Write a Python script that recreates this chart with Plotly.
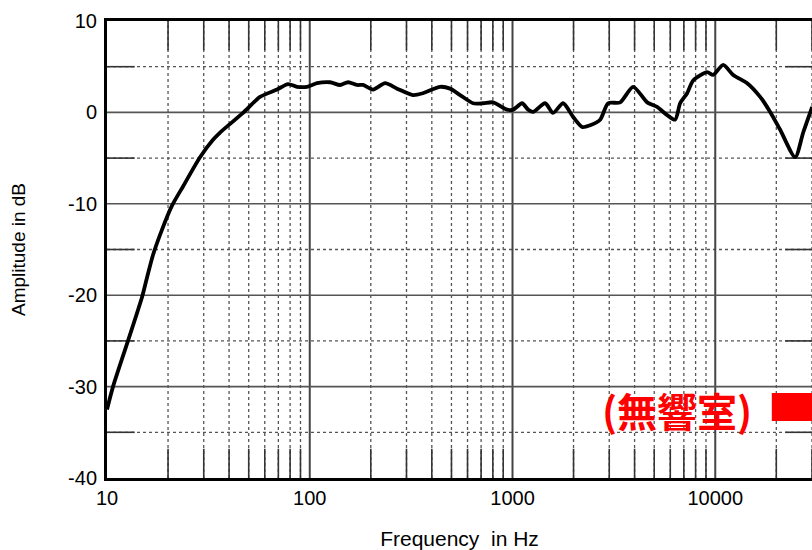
import numpy as np
import plotly.graph_objects as go

# ---- data ----
freq_hz = [10, 10.71, 12.69, 14.89, 15.70, 16.86, 18.62, 20.92, 23.71, 28.76, 33.33, 36.10,
           46.87, 56.86, 68.97, 78.14, 86.56, 96.97, 108.6, 125.9, 141.1, 154.5, 171.2,
           183.2, 205.3, 235.3, 269.6, 323.3, 362.2, 439.4, 492.2, 551.3, 639.0, 716.1,
           802.1, 940.6, 1007, 1115, 1194, 1264, 1448, 1586, 1777, 1991, 2205, 2415,
           2705, 2963, 3395, 3936, 4613, 5168, 5789, 6342, 6711, 7266, 7780, 9121, 9763,
           10940, 12255, 14370, 16653, 18659, 20897, 24795, 27151, 30070]
amplitude_db = [-32.5, -30.0, -25.0, -20.2, -18.2, -15.6, -12.9, -10.2, -8.1, -4.9, -3.0, -2.2,
                -0.05, 1.7, 2.5, 3.1, 2.8, 2.8, 3.2, 3.3, 3.0, 3.3, 3.0,
                3.0, 2.5, 3.2, 2.6, 1.9, 2.1, 2.8, 2.6, 1.9, 1.0, 1.0,
                1.1, 0.3, 0.3, 1.0, 0.3, 0.05, 1.0, -0.05, 1.0, -0.5, -1.6, -1.4,
                -0.8, 1.0, 1.1, 2.8, 1.1, 0.6, -0.3, -0.8, 1.0, 2.1, 3.5, 4.4, 4.1,
                5.2, 4.1, 3.2, 1.7, 0.05, -1.9, -4.9, -2.2, 0.6]

x_tick_vals = [10, 100, 1000, 10000]
x_tick_text = ["10", "100", "1000", "10000"]
y_tick_vals = [10, 0, -10, -20, -30, -40]
y_tick_text = ["10", "0", "-10", "-20", "-30", "-40"]
x_min, x_max = 10, 30000
y_min, y_max = -40, 10
label_text = "(無響室)"

# ---- figure ----
fig = go.Figure()

decades = [100, 1000, 10000]
minors = [m * 10 ** k for k in range(1, 5) for m in range(2, 10) if m * 10 ** k <= x_max]
half_dB = [5, -5, -15, -25, -35]
full_dB = [0, -10, -20, -30]

def vlines(xs, y0, y1):
    xx, yy = [], []
    for v in xs:
        xx += [v, v, None]
        yy += [y0, y1, None]
    return xx, yy

def hlines(ys, x0, x1):
    xx, yy = [], []
    for v in ys:
        xx += [x0, x1, None]
        yy += [v, v, None]
    return xx, yy

line_style = dict(mode="lines", hoverinfo="skip", showlegend=False)

# dotted minor verticals
xx, yy = vlines(minors, y_min, y_max)
fig.add_trace(go.Scatter(x=xx, y=yy, line=dict(color="#555", width=1.3, dash="dot"), **line_style))
# solid ends of minor verticals
seg = 3.2
xx1, yy1 = vlines(minors, y_max - seg, y_max)
xx2, yy2 = vlines(minors, y_min, y_min + seg)
fig.add_trace(go.Scatter(x=xx1 + xx2, y=yy1 + yy2, line=dict(color="#333", width=1.6), **line_style))
# dotted 5 dB horizontals
xx, yy = hlines(half_dB, x_min, x_max)
fig.add_trace(go.Scatter(x=xx, y=yy, line=dict(color="#555", width=1.3, dash="dot"), **line_style))
# solid ends of 5 dB horizontals
xx1, yy1 = hlines(half_dB, x_min, 13.7)
xx2, yy2 = hlines(half_dB, 22140, x_max)
fig.add_trace(go.Scatter(x=xx1 + xx2, y=yy1 + yy2, line=dict(color="#333", width=1.6), **line_style))
# decade verticals
xx, yy = vlines(decades, y_min, y_max)
fig.add_trace(go.Scatter(x=xx, y=yy, line=dict(color="#444", width=2), **line_style))
# 10 dB horizontals
xx, yy = hlines(full_dB, x_min, x_max)
fig.add_trace(go.Scatter(x=xx, y=yy, line=dict(color="#555", width=1.6), **line_style))

# response curve
fig.add_trace(go.Scatter(x=freq_hz, y=amplitude_db, mode="lines",
                         line=dict(color="black", width=3.8, shape="spline", smoothing=0.7),
                         hoverinfo="skip", showlegend=False))

fig.add_annotation(x=0.8085, y=0.149, xref="paper", yref="paper", text="<b>" + label_text + "</b>",
                   showarrow=False, font=dict(family="Noto Sans CJK JP", size=40, color="#ff0000"),
                   xanchor="center", yanchor="middle")
fig.add_shape(type="rect", xref="paper", yref="paper", x0=0.943, x1=1.02, y0=0.125, y1=0.186,
              fillcolor="#ff0000", line=dict(width=0))

fig.update_layout(
    width=812, height=550,
    margin=dict(l=107, r=0, t=21, b=72),
    paper_bgcolor="white", plot_bgcolor="white",
    font=dict(family="Liberation Sans, Arial, sans-serif", color="black"),
    xaxis=dict(type="log", range=[np.log10(x_min), np.log10(x_max)],
               tickvals=x_tick_vals, ticktext=x_tick_text, showgrid=False, zeroline=False,
               showline=True, linecolor="black", linewidth=3, mirror=True,
               ticks="", tickfont=dict(size=20),
               title=dict(text="Frequency  in Hz", font=dict(size=21), standoff=24)),
    yaxis=dict(range=[y_min, y_max], tickvals=y_tick_vals, ticktext=y_tick_text,
               showgrid=False, zeroline=False, showline=True, linecolor="black", linewidth=3,
               ticks="", tickfont=dict(size=20), ticklabelstandoff=3,
               title=dict(text="Amplitude in dB", font=dict(size=19), standoff=38)),
)

fig.write_html("out.html")
